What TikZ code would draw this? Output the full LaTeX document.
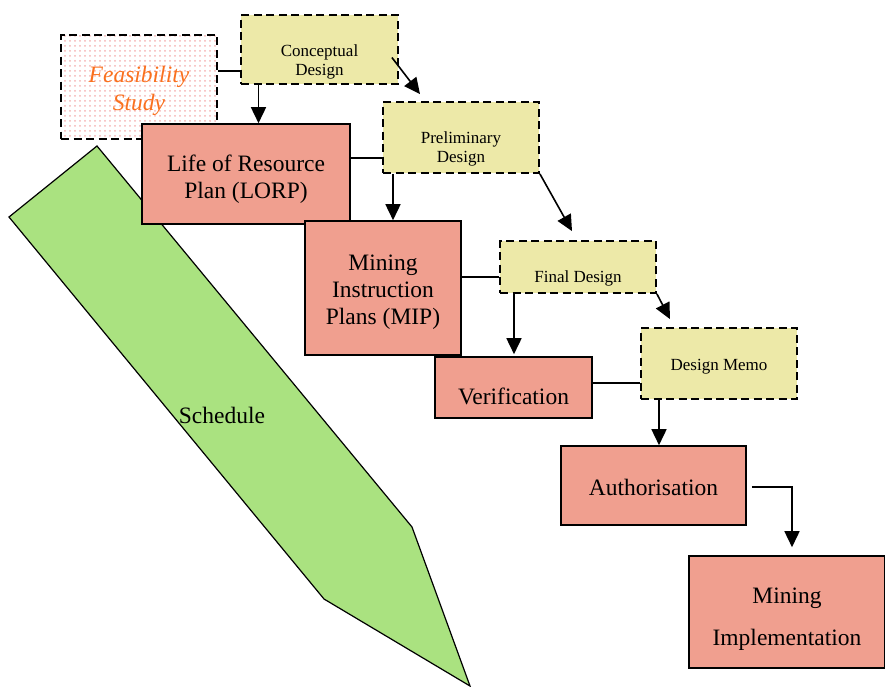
\documentclass[tikz,border=0pt]{standalone}
\usepackage{fontspec}
\setmainfont{Liberation Serif}
\usetikzlibrary{arrows.meta,patterns.meta}
\definecolor{designfill}{RGB}{237,233,168}
\definecolor{planfill}{RGB}{240,159,143}
\definecolor{schedfill}{RGB}{170,226,128}
\definecolor{feasorange}{RGB}{250,112,30}
\definecolor{feasdot}{RGB}{244,180,180}
\begin{document}
\begin{tikzpicture}[x=1pt, y=-1pt, line join=miter, >={Triangle[length=16pt,width=15pt]}]
	\tikzset{plan/.style={draw, line width=1.6pt, fill=planfill, inner sep=0pt},
		design/.style={draw, line width=1.8pt, dash pattern=on 8pt off 4.5pt, fill=designfill, inner sep=0pt},
		plantext/.style={align=center, font=\fontsize{23.5}{27}\selectfont},
		designtext/.style={align=center, font=\fontsize{17}{19}\selectfont},
		link/.style={line width=1.6pt}}
	\useasboundingbox (0,0) rectangle (885,686);
	\draw[fill=schedfill, line width=1.2pt] (97,146) -- (9,217) -- (324,599) -- (470,686) -- (412,527) -- cycle;
	\node[plantext] at (222,415) {Schedule};
	\node[draw, line width=1.6pt, dash pattern=on 8pt off 4.5pt, pattern={Dots[radius=1pt,distance=5pt]}, pattern color=feasdot, minimum width=156pt, minimum height=104pt,
		label={[yshift=-4pt, align=center, font=\fontsize{23.5}{28}\selectfont\itshape, text=feasorange]center:Feasibility\\Study}] (feas) at (139,87) {};
	\node[design, minimum width=157pt, minimum height=69pt, label={[designtext, yshift=-12pt]center:Conceptual\\Design}] (concept) at (319.5,49.5) {};
	\node[plan, minimum width=208pt, minimum height=100pt, label={[plantext, yshift=-5pt]center:Life of Resource\\Plan (LORP)}] (lorp) at (246,174) {};
	\node[design, minimum width=156pt, minimum height=71pt, label={[designtext, yshift=-11pt]center:Preliminary\\Design}] (prelim) at (461,137.5) {};
	\node[plan, minimum width=156pt, minimum height=134pt, label={[plantext, yshift=-4pt]center:Mining\\Instruction\\Plans (MIP)}] (mip) at (383,288) {};
	\node[design, minimum width=156pt, minimum height=52pt, label={[designtext, yshift=-11pt]center:Final Design}] (final) at (578,267) {};
	\node[plan, minimum width=157pt, minimum height=61pt, label={[plantext, yshift=-9pt]center:Verification}] (verif) at (513.5,387.5) {};
	\node[design, minimum width=156pt, minimum height=71pt, label={[designtext, yshift=-3pt]center:Design Memo}] (memo) at (719,363.5) {};
	\node[plan, minimum width=185pt, minimum height=79pt, label={[plantext, yshift=-2pt]center:Authorisation}] (auth) at (653.5,485.5) {};
	\node[plan, minimum width=196pt, minimum height=112pt, label={[plantext, font=\fontsize{23.5}{42}\selectfont, yshift=-7pt]center:Mining\\Implementation}] (impl) at (787,612) {};
	% connectors
	\draw[link] ([yshift=16pt]feas.east) -- ([yshift=16pt]feas.east -| concept.west);
	\draw[link,->] ([xshift=-61pt]concept.south) -- ([xshift=-61pt]concept.south |- lorp.north);
	\draw[link,->] ([xshift=-7pt,yshift=-8pt]concept.east) -- ([xshift=-41pt,yshift=7pt]prelim.north);
	\draw[link] ([yshift=16pt]lorp.east) -- ([yshift=16pt]lorp.east -| prelim.west);
	\draw[link,->] ([xshift=-68pt]prelim.south) -- ([xshift=-68pt]prelim.south |- mip.north);
	\draw[link,->] (prelim.south east) -- ([xshift=-6pt,yshift=9pt]final.north);
	\draw[link] ([yshift=11pt]mip.east) -- ([yshift=11pt]mip.east -| final.west);
	\draw[link,->] ([xshift=-64pt]final.south) -- ([xshift=-64pt,yshift=2pt]final.south |- verif.north);
	\draw[link,->] (final.south east) -- ([xshift=-49pt,yshift=8pt]memo.north);
	\draw[link] ([yshift=4.5pt]verif.east) -- ([yshift=4.5pt]verif.east -| memo.west);
	\draw[link,->] ([xshift=-60pt]memo.south) -- ([xshift=-60pt]memo.south |- auth.north);
	\draw[link,->] ([xshift=5pt,yshift=-1.5pt]auth.east) -| ([xshift=5pt,yshift=8pt]impl.north);
\end{tikzpicture}
\end{document}
